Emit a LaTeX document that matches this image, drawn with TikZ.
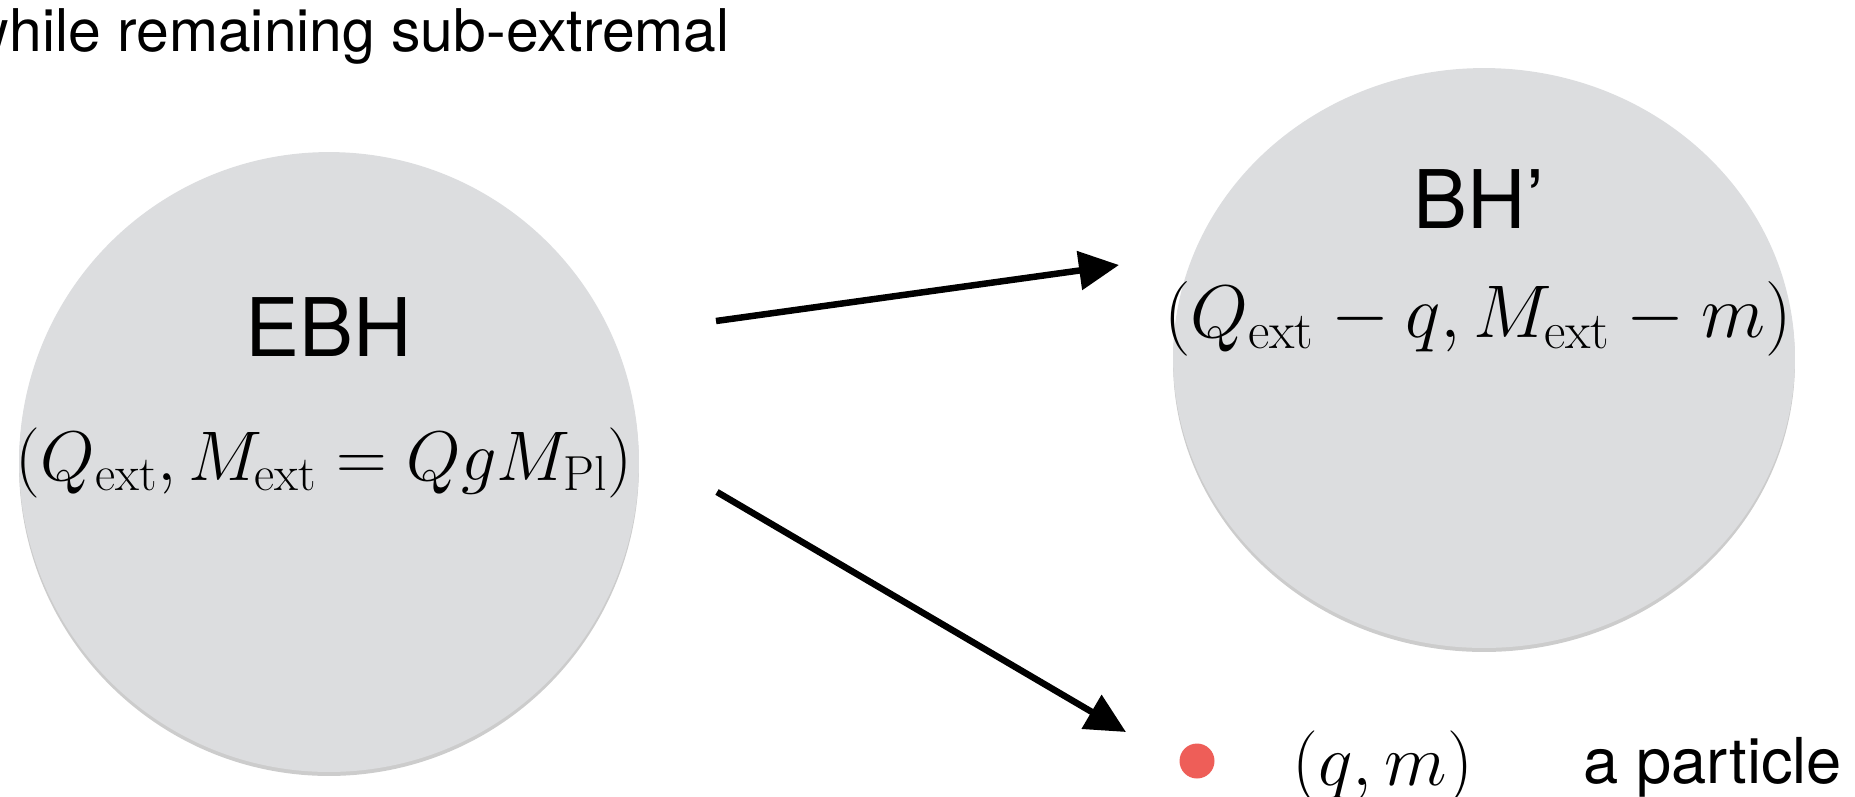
\RequirePackage{fix-cm}
\documentclass[tikz,border=0pt]{standalone}
\usepackage{amsmath}
\usepackage[no-math]{fontspec}
\newfontfamily\helv[Ligatures=TeX]{TeX Gyre Heros}
\usepackage{tikz}
\usepackage{xcolor}
\usetikzlibrary{positioning,arrows.meta,shapes.geometric}

\definecolor{bhgray}{RGB}{220,221,223}
\definecolor{dotred}{RGB}{238,94,88}

\begin{document}
\begin{tikzpicture}[
          x=0.02cm, y=-0.02cm,
          blob/.style={ellipse, fill=bhgray, inner sep=0pt},
          blobshadow/.style={ellipse, fill=black!50, opacity=0.4, inner sep=0pt},
          bhname/.style={font=\helv\fontsize{46}{50}\selectfont, inner sep=0pt},
          caption/.style={font=\helv\fontsize{33.5}{40}\selectfont, inner sep=0pt},
          formula/.style={font=\fontsize{40}{44}\selectfont, inner sep=0pt},
          arr/.style={-{Triangle[length=0.8cm, width=0.76cm]}, line width=0.13cm}
      ]
        \useasboundingbox (0,0) rectangle (1855,796);
        % the two black holes
        \node[blobshadow, minimum width=12.4cm, minimum height=12.4cm] (ebhshadow) at (329,466) {};
        \node[blob, minimum width=12.4cm, minimum height=12.4cm] (ebh) at (329,462) {};
        \node[blobshadow, minimum width=12.44cm, minimum height=11.6cm] (bhpshadow) at (1484,362) {};
        \node[blob, minimum width=12.44cm, minimum height=11.6cm] (bhp) at (1484,358) {};
        % labels
        \node[caption, anchor=base east] (title) at (730,51) {while remaining sub-extremal};
        \node[bhname, anchor=base] (ebhname) at (329,356) {EBH};
        \node[formula, anchor=base] (ebhcharge) at (324,480) {$(Q_{\mathrm{ext}}, M_{\mathrm{ext}} = QgM_{\mathrm{Pl}})$};
        \node[bhname, anchor=base] (bhpname) at (1479,228) {BH’};
        \node[formula, font=\fontsize{42.5}{46}\selectfont, anchor=base] (bhpcharge) at (1478,337) {$(Q_{\mathrm{ext}} - q, M_{\mathrm{ext}} - m)$};
        % the emitted particle
        \node[circle, fill=dotred, minimum size=0.7cm, inner sep=0pt] (dot) at (1197,761) {};
        \node[formula, font=\fontsize{41.5}{46}\selectfont, anchor=base] (qm) at (1383,785) {$(q, m)$};
        \node[caption, font=\helv\fontsize{36}{40}\selectfont, anchor=base west] (particle) at (1583,783) {a particle};
        % decay arrows
        \coordinate (up0) at (716,321);
        \coordinate (up1) at (1119,265);
        \coordinate (dn0) at (717,492);
        \coordinate (dn1) at (1126,732);
        \draw[arr] (up0) -- (up1);
        \draw[arr] (dn0) -- (dn1);
      \end{tikzpicture}
\end{document}
